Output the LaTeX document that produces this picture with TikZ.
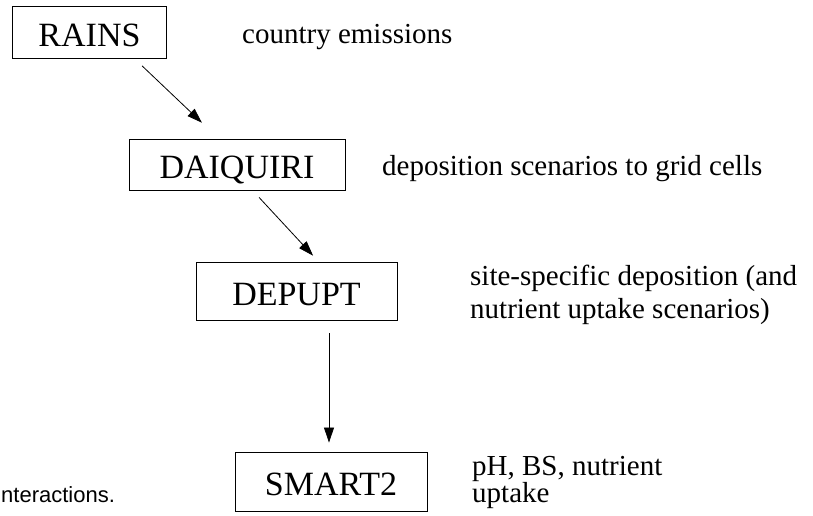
\documentclass[tikz,border=0pt]{standalone}
\usepackage{fontspec}
\setmainfont{Liberation Serif}
\newfontfamily\captionsans{Liberation Sans}
\usetikzlibrary{arrows.meta}
\begin{document}
\begin{tikzpicture}[x=1pt, y=-1pt]
	\tikzstyle{model} = [rectangle, draw, line width=0.9pt, inner sep=0pt, text height=28pt, text depth=0pt, font=\fontsize{34}{40}\selectfont]
\tikzstyle{note} = [anchor=base west, inner sep=0pt, align=left]
\tikzstyle{edge} = [line width=0.8pt, ->, >={Triangle[length=15pt, width=10pt]}]
\useasboundingbox (0,0) rectangle (813,516);

%models
\foreach \name/\lbl/\x/\y/\w/\h in {rains/RAINS/89.5/32.5/154/52, daiquiri/DAIQUIRI/237/164.5/216/51, depupt/DEPUPT/296.5/291/201/58, smart/SMART2/331/481.5/192/59}
  	\node[model, minimum width=\w pt, minimum height=\h pt] (\name) at (\x, \y) {\lbl};

%what each model hands on (base = last line)
\node[note, font=\fontsize{29}{33}\selectfont] (n_rains) at (242, 44) {country emissions};
\node[note, font=\fontsize{29}{33}\selectfont] (n_daiquiri) at (382, 175) {deposition scenarios to grid cells};
\node[note, font=\fontsize{29}{33}\selectfont] (n_depupt) at (470, 318) {site-specific deposition (and\\nutrient uptake scenarios)};
\node[note, font=\fontsize{29}{27}\selectfont] (n_smart) at (472, 502) {pH, BS, nutrient\\uptake};

\node[note, font=\captionsans\fontsize{22}{26}\selectfont] (caption) at (1, 502) {nteractions.};

\draw[edge, shorten <=10pt, shorten >=23pt] ([xshift=45.3pt]rains.south) -- ([xshift=-18.4pt]daiquiri.north);
\draw[edge, shorten <=9.5pt, shorten >=8pt] ([xshift=15.6pt]daiquiri.south) -- ([xshift=22pt]depupt.north);
\draw[edge, shorten <=13pt, shorten >=9pt] ([xshift=32.5pt]depupt.south) -- ([xshift=32.5pt]depupt.south |- smart.north);
\end{tikzpicture}
\end{document}
